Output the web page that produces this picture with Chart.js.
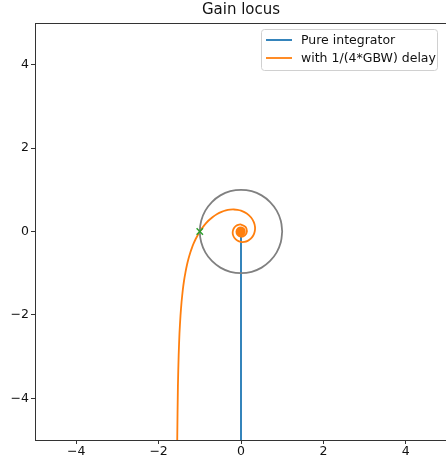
<!DOCTYPE html>
<html>
<head>
<meta charset="utf-8">
<script src="https://cdn.jsdelivr.net/npm/chart.js@4/dist/chart.umd.min.js"></script>
<style>
  html, body { margin: 0; padding: 0; background: #fff; overflow: hidden; }
  canvas { display: block; }
</style>
</head>
<body>
<canvas id="chart" width="446" height="463"></canvas>
<script>
// pure integrator: straight down the imaginary axis, ends at the origin
const integratorRe = [0, 0];
const integratorIm = [-7, 0];

// integrator with 1/(4*GBW) delay
const delayRe = [-1.556, -1.548, -1.531, -1.513, -1.493, -1.469, -1.443, -1.414, -1.383, -1.348,
  -1.312, -1.273, -1.232, -1.189, -1.144, -1.097, -1.049, -1.0, -0.898, -0.793,
  -0.685, -0.578, -0.471, -0.367, -0.267, -0.172, -0.082, 0.0, 0.140, 0.245,
  0.311, 0.340, 0.333, 0.297, 0.238, 0.163, 0.081, 0.0, -0.090, -0.157,
  -0.195, -0.2, -0.176, -0.129, -0.067, 0.0, 0.109, 0.143, 0.094, 0.0,
  -0.083, -0.111, -0.074, 0.0, 0.067, 0.091, 0.062, 0.0, -0.057, -0.077,
  -0.052, 0.0, 0.049, 0.067, 0.046, 0.0, -0.059, 0.0, 0.053, 0.0,
  -0.048, 0.0, 0.044, 0.0, 0.0, 0.0, 0.0];
const delayIm = [-6.48, -5.03, -3.696, -2.970, -2.436, -2.023, -1.690, -1.414, -1.181, -0.980,
  -0.804, -0.649, -0.510, -0.386, -0.275, -0.174, -0.083, 0.0, 0.142, 0.258,
  0.349, 0.420, 0.471, 0.506, 0.524, 0.528, 0.520, 0.5, 0.432, 0.337,
  0.226, 0.110, 0.0, -0.097, -0.173, -0.225, -0.250, -0.25, -0.217, -0.157,
  -0.081, 0.0, 0.073, 0.129, 0.161, 0.167, 0.109, 0.0, -0.094, -0.125,
  -0.083, 0.0, 0.074, 0.1, 0.067, 0.0, -0.062, -0.083, -0.057, 0.0,
  0.052, 0.071, 0.049, 0.0, -0.046, -0.063, 0.0, 0.056, 0.0, -0.05,
  0.0, 0.046, 0.0, -0.042, 0.038, -0.036, 0.0];

// unit circle
const circleRe = [1, 0.966, 0.866, 0.707, 0.5, 0.259, 0, -0.259, -0.5, -0.707, -0.866, -0.966,
  -1, -0.966, -0.866, -0.707, -0.5, -0.259, 0, 0.259, 0.5, 0.707, 0.866, 0.966, 1];
const circleIm = [0, 0.259, 0.5, 0.707, 0.866, 0.966, 1, 0.966, 0.866, 0.707, 0.5, 0.259,
  0, -0.259, -0.5, -0.707, -0.866, -0.966, -1, -0.966, -0.866, -0.707, -0.5, -0.259, 0];

// crossover point
const crossRe = [-1];
const crossIm = [0];

const xTicks = [-4, -2, 0, 2, 4];
const yTicks = [-4, -2, 0, 2, 4];

const seriesNames = ['Pure integrator', 'with 1/(4*GBW) delay'];
const seriesColors = ['#1f77b4', '#ff7f0e'];

const pts = (xs, ys) => xs.map((x, i) => ({ x: x, y: ys[i] }));
const FONT = "'DejaVu Sans', sans-serif";
const minus = v => String(v).replace('-', '\u2212');

// let the axes box run off the right edge like the original figure
const stretch = {
  id: 'stretch',
  afterLayout(chart) {
    const right = 447;
    chart.chartArea.right = right;
    chart.chartArea.width = right - chart.chartArea.left;
    const x = chart.scales.x;
    x.right = right;
    x.width = right - x.left;
    x.configure();
  }
};

// title, box and legend drawn the matplotlib way
const frame = {
  id: 'frame',
  afterDraw(chart) {
    const { ctx, chartArea: a } = chart;
    ctx.save();
    ctx.strokeStyle = '#333';
    ctx.lineWidth = 1;
    ctx.beginPath();
    ctx.moveTo(a.left, a.top + 0.5);
    ctx.lineTo(a.right, a.top + 0.5);
    ctx.stroke();

    ctx.fillStyle = '#111';
    ctx.font = '15px ' + FONT;
    ctx.textAlign = 'center';
    ctx.textBaseline = 'middle';
    ctx.fillText('Gain locus', 241, 10);

    // legend
    const bx = 261, by = 29, bw = 176, bh = 41;
    ctx.fillStyle = 'rgba(255,255,255,0.8)';
    ctx.strokeStyle = '#d0d0d0';
    ctx.beginPath();
    ctx.roundRect(bx + 0.5, by + 0.5, bw, bh, 3);
    ctx.fill();
    ctx.stroke();
    ctx.font = '12.5px ' + FONT;
    ctx.textAlign = 'left';
    seriesNames.forEach((name, i) => {
      const y = 40 + i * 18;
      ctx.strokeStyle = seriesColors[i];
      ctx.lineWidth = 1.8;
      ctx.beginPath();
      ctx.moveTo(266, y);
      ctx.lineTo(292, y);
      ctx.stroke();
      ctx.fillStyle = '#111';
      ctx.fillText(name, 301, y + 1);
    });
    ctx.restore();
  }
};

new Chart(document.getElementById('chart'), {
  type: 'scatter',
  data: {
    datasets: [
      {
        data: pts(integratorRe, integratorIm),
        showLine: true, borderColor: seriesColors[0], borderWidth: 1.8,
        pointRadius: 0, order: 4
      },
      {
        data: pts(delayRe, delayIm),
        showLine: true, borderColor: seriesColors[1], borderWidth: 1.8,
        pointRadius: 0, tension: 0.2, order: 3
      },
      {
        data: pts(circleRe, circleIm),
        showLine: true, borderColor: '#808080', borderWidth: 1.8,
        pointRadius: 0, tension: 0.4, order: 2
      },
      {
        data: pts(crossRe, crossIm),
        pointStyle: 'crossRot', pointRadius: 4.5, borderWidth: 1.5,
        borderColor: '#2ca02c', backgroundColor: '#2ca02c', order: 1
      }
    ]
  },
  options: {
    responsive: false,
    animation: false,
    layout: { padding: { top: 23, left: 0, right: 0, bottom: 0 } },
    plugins: { legend: { display: false }, title: { display: false }, tooltip: { enabled: false } },
    scales: {
      x: {
        type: 'linear', min: -5, max: 5,
        afterFit: s => { s.height = 23; s.paddingLeft = 0; s.paddingRight = 0; },
        afterBuildTicks: s => { s.ticks = xTicks.map(v => ({ value: v })); },
        grid: { drawOnChartArea: false, tickLength: 4, color: '#333' },
        border: { display: true, color: '#333', width: 1 },
        ticks: { padding: 0, color: '#111', font: { family: FONT, size: 12.5 }, callback: minus }
      },
      y: {
        type: 'linear', min: -5, max: 5,
        afterFit: s => { s.width = 35; s.paddingTop = 0; s.paddingBottom = 0; },
        afterBuildTicks: s => { s.ticks = yTicks.map(v => ({ value: v })); },
        grid: { drawOnChartArea: false, tickLength: 4, color: '#333' },
        border: { display: true, color: '#333', width: 1 },
        ticks: { padding: 2, color: '#111', font: { family: FONT, size: 12.5 }, callback: minus }
      }
    }
  },
  plugins: [stretch, frame]
});
</script>
</body>
</html>
